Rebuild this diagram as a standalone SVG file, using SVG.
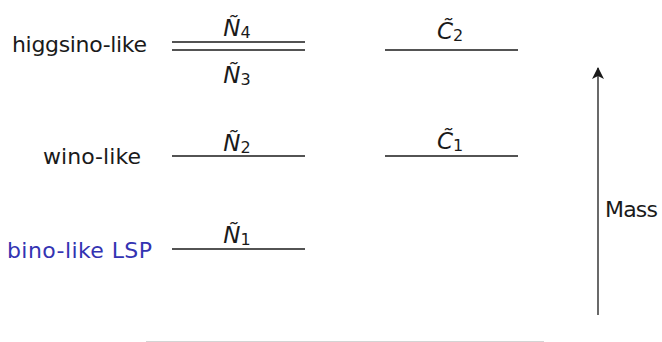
<svg xmlns="http://www.w3.org/2000/svg" width="662" height="342" viewBox="0 0 662 342">
<style>
.lvl{stroke:#1a1a1a;stroke-width:1.3;fill:none}
.lbl{font-family:"DejaVu Sans","Liberation Sans",sans-serif;font-size:22px;fill:#1a1a1a}
.blue{fill:#3333b2}
.m{font-family:"DejaVu Sans","Liberation Sans",sans-serif;font-size:23px;font-style:italic;fill:#1a1a1a}
.sub{font-style:normal;font-size:16px}
</style>
<defs>
<marker id="ah" viewBox="0 0 12 16" refX="11" refY="8" markerWidth="12" markerHeight="16" markerUnits="userSpaceOnUse" orient="auto">
<path d="M0,2 L12,8 L0,14 L3,8 Z" fill="#1a1a1a"/>
</marker>
</defs>
<rect width="662" height="342" fill="#ffffff"/>
<g id="labels">
<text id="higgsino" class="lbl" x="147" y="52" text-anchor="end" textLength="135">higgsino-like</text>
<text id="wino" class="lbl" x="141" y="164" text-anchor="end" textLength="98">wino-like</text>
<text id="bino" class="lbl blue" x="152" y="258" text-anchor="end" textLength="145">bino-like LSP</text>
</g>
<g id="N4">
<line class="lvl" x1="172" y1="42" x2="305" y2="42"/>
<text class="m" x="237" y="36" text-anchor="middle">Ñ<tspan class="sub" dy="2">4</tspan></text>
</g>
<g id="N3">
<line class="lvl" x1="172" y1="50" x2="305" y2="50"/>
<text class="m" x="237" y="83" text-anchor="middle">Ñ<tspan class="sub" dy="2">3</tspan></text>
</g>
<g id="C2">
<line class="lvl" x1="385" y1="50" x2="518" y2="50"/>
<text class="m" x="450" y="39" text-anchor="middle">C&#x303;<tspan class="sub" dy="2">2</tspan></text>
</g>
<g id="N2">
<line class="lvl" x1="172" y1="156" x2="305" y2="156"/>
<text class="m" x="237" y="151" text-anchor="middle">Ñ<tspan class="sub" dy="2">2</tspan></text>
</g>
<g id="C1">
<line class="lvl" x1="385" y1="156" x2="518" y2="156"/>
<text class="m" x="450" y="149" text-anchor="middle">C&#x303;<tspan class="sub" dy="2">1</tspan></text>
</g>
<g id="N1">
<line class="lvl" x1="172" y1="249" x2="305" y2="249"/>
<text class="m" x="237" y="243" text-anchor="middle">Ñ<tspan class="sub" dy="2">1</tspan></text>
</g>
<g id="connectors">
<line x1="598" y1="315" x2="598" y2="68" stroke="#1a1a1a" stroke-width="1.3" marker-end="url(#ah)"/>
<text class="lbl" x="605" y="217" textLength="53">Mass</text>
</g>
<g id="frame">
<line x1="146" y1="341.5" x2="544" y2="341.5" stroke="#d4d4d4" stroke-width="1"/>
</g>
</svg>
